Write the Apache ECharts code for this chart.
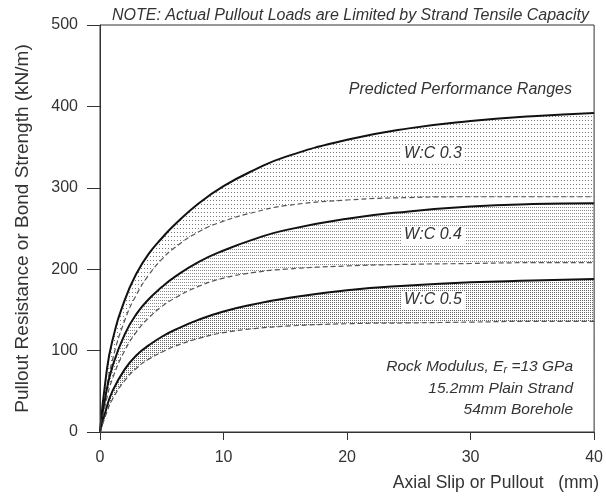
<!DOCTYPE html>
<html>
<head>
<meta charset="utf-8">
<script src="https://cdn.jsdelivr.net/npm/echarts@6/dist/echarts.min.js"></script>
<style>
  html, body { margin: 0; padding: 0; background: #fff; }
  #chart { width: 606px; height: 497px; }
</style>
</head>
<body>
<div id="chart"></div>
<script>
// slip values (mm) at which the curves were read
const slip = [0, 0.5, 1, 2, 3, 4, 5, 6, 8, 10, 12.5, 15, 20, 25, 30, 35, 40];

// W:C 0.3 band
const wc03Upper = [0, 70, 112, 162, 196, 220, 238, 254, 281, 302, 322, 338, 359, 373, 382, 388, 392];
const wc03Lower = [0, 50, 88, 137, 170, 194, 212, 226, 246, 259, 270, 278, 285, 288, 289, 289, 289];
// W:C 0.4 band
const wc04Upper = [0, 48, 80, 120, 146, 164, 178, 190, 209, 223, 237, 248, 262, 271, 277, 280, 281];
const wc04Lower = [0, 38, 65, 100, 124, 141, 154, 164, 179, 189, 196, 200, 204, 206, 207, 208, 208];
// W:C 0.5 band
const wc05Upper = [0, 28, 50, 77, 95, 107, 117, 125, 138, 148, 157, 164, 174, 180, 184, 186, 188];
const wc05Lower = [0, 22, 40, 63, 79, 90, 98, 105, 115, 122, 127, 130, 133, 134, 135, 136, 136];

const yTicks = [0, 100, 200, 300, 400, 500];
const xTicks = [0, 10, 20, 30, 40];

const font = "'Liberation Sans', Arial, sans-serif";

// dotted fill patterns
function dots(stepX, stepY, color) {
    const c = document.createElement("canvas");
    c.width = stepX;
    c.height = stepY;
    const ctx = c.getContext("2d");
    ctx.fillStyle = color;
    ctx.fillRect(0, 0, 1, 1);
    return { image: c, repeat: "repeat" };
}

const pairs = (ys) => slip.map((x, i) => [x, ys[i]]);

// band = dotted area under the upper curve, then a white area under the lower curve
function band(level, upper, lower, pattern) {
    return [
        {
            type: "line",
            data: pairs(upper),
            symbol: "none",
            smooth: true,
            lineStyle: { opacity: 0 },
            areaStyle: { color: pattern, opacity: 1 },
            silent: true,
            z: level,
        },
        {
            type: "line",
            data: pairs(lower),
            symbol: "none",
            smooth: true,
            lineStyle: { opacity: 0 },
            areaStyle: { color: "#fff", opacity: 1 },
            silent: true,
            z: level + 1,
        },
        {
            type: "line",
            data: pairs(upper),
            symbol: "none",
            smooth: true,
            lineStyle: { color: "#111", width: 2 },
            z: 10,
        },
        {
            type: "line",
            data: pairs(lower),
            symbol: "none",
            smooth: true,
            lineStyle: { color: "#555", width: 1.2, type: [5, 3] },
            z: 10,
        },
    ];
}

const chart = echarts.init(document.getElementById("chart"));

const italic = (text, x, y, size, align, bg) => ({
    type: "text",
    x: x,
    y: y,
    z: 20,
    style: {
        text: text,
        font: "italic " + size + "px " + font,
        fill: "#333",
        align: align,
        verticalAlign: "middle",
        backgroundColor: bg ? "#fff" : undefined,
        padding: bg ? [1, 3] : 0,
    },
});

chart.setOption({
    animation: false,
    grid: {
        left: 100,
        right: 9,
        top: 25,
        bottom: 65,
        show: true,
        borderColor: "#333",
        borderWidth: 1,
        z: 12,
    },
    xAxis: {
        type: "value",
        min: xTicks[0],
        max: xTicks[xTicks.length - 1],
        interval: 10,
        z: 12,
        axisLine: { lineStyle: { color: "#333", width: 1 } },
        axisTick: { length: 8, lineStyle: { color: "#333" } },
        axisLabel: { color: "#333", fontSize: 16, fontFamily: font, margin: 18 },
        splitLine: { show: false },
    },
    yAxis: {
        type: "value",
        min: yTicks[0],
        max: yTicks[yTicks.length - 1],
        interval: 100,
        z: 12,
        name: "Pullout Resistance or Bond Strength (kN/m)",
        nameLocation: "middle",
        nameGap: 68,
        nameTextStyle: { color: "#333", fontSize: 19, fontFamily: font },
        axisLine: { show: true, lineStyle: { color: "#333", width: 1 } },
        axisTick: { show: true, length: 13, lineStyle: { color: "#333" } },
        axisLabel: { color: "#333", fontSize: 16, fontFamily: font, margin: 22 },
        splitLine: { show: false },
    },
    graphic: [
        italic("NOTE: Actual Pullout Loads are Limited by Strand Tensile Capacity", 589, 16, 16, "right"),
        italic("Predicted Performance Ranges", 572, 90, 16, "right"),
        italic("W:C 0.3", 433, 154, 16, "center", true),
        italic("W:C 0.4", 433, 235, 16, "center", true),
        italic("W:C 0.5", 433, 300, 16, "center", true),
        {
            type: "text",
            x: 573,
            y: 367,
            z: 20,
            style: {
                text: "{t|Rock Modulus, E}{s|r}{t| =13 GPa}",
                align: "right",
                verticalAlign: "middle",
                rich: {
                    t: { font: "italic 15.5px " + font, fill: "#333" },
                    s: { font: "italic 11px " + font, fill: "#333", padding: [6, 0, 0, 0] },
                },
            },
        },
        italic("15.2mm Plain Strand", 573, 389, 15.5, "right"),
        italic("54mm Borehole", 573, 410, 15.5, "right"),
        {
            type: "text",
            x: 599,
            y: 483,
            style: {
                text: "Axial Slip or Pullout   (mm)",
                font: "17.5px " + font,
                fill: "#333",
                align: "right",
                verticalAlign: "middle",
            },
        },
    ],
    series: [].concat(
        band(1, wc03Upper, wc03Lower, dots(3, 4, "#777")),
        band(3, wc04Upper, wc04Lower, dots(2, 3, "#888")),
        band(5, wc05Upper, wc05Lower, dots(2, 2, "#666"))
    ),
});
</script>
</body>
</html>
